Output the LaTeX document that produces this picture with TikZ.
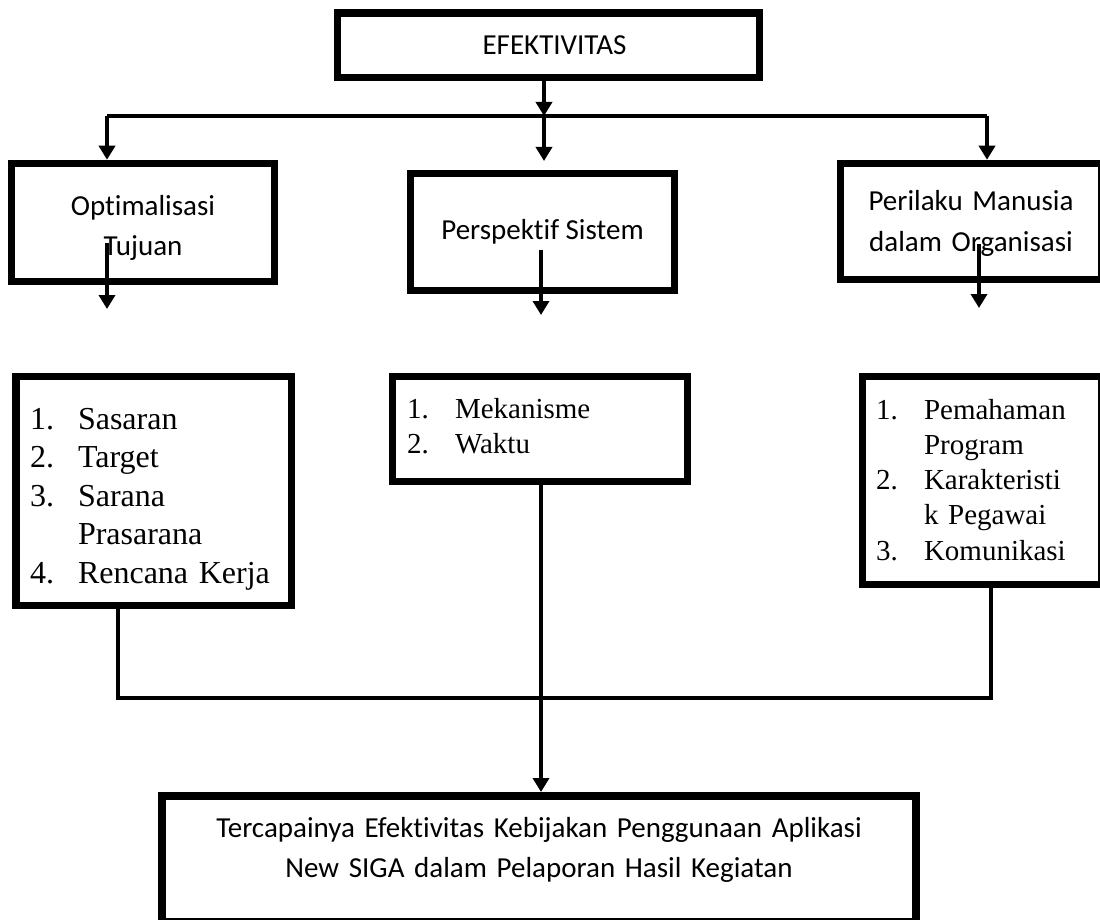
\documentclass[tikz,border=0pt]{standalone}
\usepackage{fontspec}
\setmainfont{Liberation Serif}
\newfontfamily\calibri[Ligatures=NoCommon]{Carlito}
\usepackage{tikz}
\usetikzlibrary{arrows.meta,calc,positioning}

\newcommand{\itemno}[1]{\makebox[48pt][l]{#1}}

\begin{document}
\begin{tikzpicture}[x=1pt,y=1pt,yscale=-1,xscale=1,
  box/.style={draw,rectangle,line width=7.5pt,inner sep=0pt},
  head/.style={box,align=center,font=\calibri\fontsize{29}{40.5}\selectfont},
  list/.style={box,align=left,inner xsep=14pt,font=\fontsize{29}{35.3}\selectfont},
  arr/.style={line width=4pt,-{Triangle[width=16pt,length=14pt]}},
  link/.style={line width=3.5pt}]
%set diagram at 1100 x 920
\useasboundingbox[fill=white] (0,0) rectangle (1100,920);

% Text Node
\node[head,minimum width=422,minimum height=64.5] (efek) at (548.5,45.25) {\hspace*{12pt}EFEKTIVITAS};
% Text Node
\node[head,minimum width=263,minimum height=118,text width=263pt,text height=20pt,text depth=35pt] (optim) at (143,222.5) {Optimalisasi\\Tujuan};
% Text Node
\node[head,minimum width=264,minimum height=117] (persp) at (542.5,232) {Perspektif Sistem};
% Text Node
\node[head,minimum width=261.5,minimum height=116,text width=261.5pt,text height=20pt,text depth=41pt] (peril) at (971,221.5) {Perilaku Manusia\\dalam Organisasi};

% Lists
\node[list,font=\fontsize{32}{38.5}\selectfont,minimum width=275.5,minimum height=229,text width=247.5pt,text height=22pt,text depth=146pt] (tujuanlist) at (153.75,491) {\itemno{1.}Sasaran\\ \itemno{2.}Target\\ \itemno{3.}Sarana\\ \itemno{}Prasarana\\ \itemno{4.}Rencana Kerja};
\node[list,minimum width=295,minimum height=105,text width=266pt,text height=20pt,text depth=42pt] (sistemlist) at (540,429) {\itemno{1.}Mekanisme\\ \itemno{2.}Waktu};
\node[list,inner xsep=13.5pt,minimum width=239,minimum height=208,text width=212pt,text height=20pt,text depth=143pt] (manusialist) at (982,480.5) {\itemno{1.}Pemahaman\\ \itemno{}Program\\ \itemno{2.}Karakteristi\\ \itemno{}k Pegawai\\ \itemno{3.}Komunikasi};

% Text Node
\node[head,line width=8pt,minimum width=754,minimum height=126,text width=754pt,text height=20pt,text depth=64pt] (goal) at (539,859) {Tercapainya Efektivitas Kebijakan Penggunaan Aplikasi\\New SIGA dalam Pelaporan Hasil Kegiatan};

% Coordinates
\coordinate (hub) at (544,116);
\coordinate (hubL) at (107,116);
\coordinate (hubR) at (987,116);
\coordinate (hubP) at (544,161);
\coordinate (optimA) at (107,243);
\coordinate (optimB) at (107,309);
\coordinate (perspA) at (541,250);
\coordinate (perspB) at (541,315);
\coordinate (perilA) at (979,244);
\coordinate (perilB) at (979,308);
\coordinate (jL) at (118,698);
\coordinate (jM) at (541,698);
\coordinate (jR) at (991,698);

%Straight Lines
\draw[link] (hubL) -- (hubR);
\draw[arr] (hub |- efek.south) -- (hub);
\draw[arr] (hub) -- (hubP);
\draw[arr] (hubL) -- (hubL |- optim.north);
\draw[arr] (hubR) -- (hubR |- peril.north);
%Straight Lines
\draw[arr] (optimA) -- (optimB);
\draw[arr] (perspA) -- (perspB);
\draw[arr] (perilA) -- (perilB);
%Straight Lines
\draw[link] (jL |- tujuanlist.south) -- (jL) -- (jR) -- (jR |- manusialist.south);
\draw[arr] (jM |- sistemlist.south) -- (jM |- goal.north);

\end{tikzpicture}
\end{document}
